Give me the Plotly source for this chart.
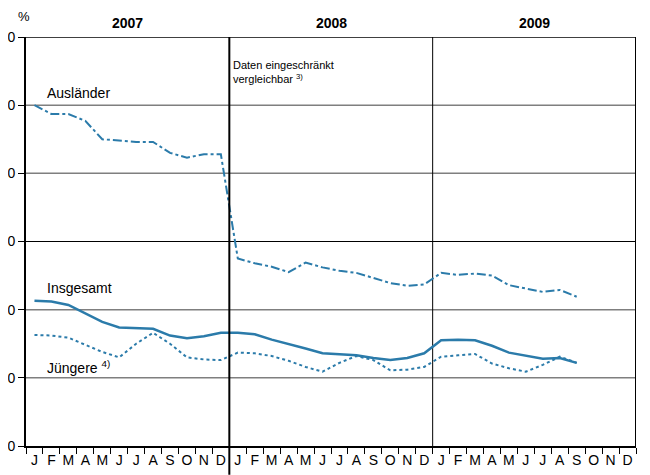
import plotly.graph_objects as go

months = ["J", "F", "M", "A", "M", "J", "J", "A", "S", "O", "N", "D"]
years = ["2007", "2008", "2009"]

auslaender = [50.0, 48.7, 48.7, 47.7, 45.0, 44.8, 44.6, 44.6, 43.0, 42.3, 42.8, 42.8,
              27.5, 26.8, 26.3, 25.5, 26.9, 26.2, 25.7, 25.4, 24.6, 23.9, 23.5, 23.7,
              25.4, 25.1, 25.3, 25.0, 23.6, 23.1, 22.6, 22.9, 21.9]
insgesamt = [21.3, 21.2, 20.7, 19.5, 18.2, 17.4, 17.3, 17.2, 16.2, 15.8, 16.1, 16.6,
             16.6, 16.4, 15.6, 15.0, 14.3, 13.6, 13.5, 13.3, 12.9, 12.6, 12.9, 13.6,
             15.5, 15.6, 15.5, 14.7, 13.7, 13.2, 12.8, 12.9, 12.2]
juengere = [16.3, 16.2, 15.9, 14.8, 13.8, 13.0, 15.0, 16.6, 15.0, 13.0, 12.7, 12.6,
            13.7, 13.6, 13.2, 12.5, 11.6, 10.9, 12.2, 13.2, 12.6, 11.1, 11.2, 11.6,
            13.1, 13.3, 13.5, 12.1, 11.4, 10.9, 11.9, 13.1, 12.2]

n_months = len(years) * len(months)
x_vals = [i + 0.5 for i in range(len(auslaender))]
color = "#2B7BAA"
font_family = "Arial, Liberation Sans, sans-serif"

fig = go.Figure()
fig.add_trace(go.Scatter(x=x_vals, y=auslaender, mode="lines",
                         line=dict(color=color, width=2, dash="dashdot")))
fig.add_trace(go.Scatter(x=x_vals, y=insgesamt, mode="lines",
                         line=dict(color=color, width=2.5)))
fig.add_trace(go.Scatter(x=x_vals, y=juengere, mode="lines",
                         line=dict(color=color, width=2, dash="dot")))

# gridlines
for yv in [10, 20, 40, 50]:
    fig.add_shape(type="line", xref="x", yref="y", x0=0, x1=n_months, y0=yv, y1=yv,
                  line=dict(color="#7f7f7f", width=1.5), layer="below")
fig.add_shape(type="line", xref="x", yref="y", x0=0, x1=n_months, y0=30, y1=30,
              line=dict(color="black", width=1), layer="below")
fig.add_shape(type="line", xref="x", yref="y", x0=0, x1=n_months, y0=60, y1=60,
              line=dict(color="black", width=1.5), layer="below")
# year dividers
fig.add_shape(type="line", xref="x", yref="paper", x0=12, x1=12, y0=-0.07, y1=1,
              line=dict(color="black", width=2))
fig.add_shape(type="line", xref="x", yref="y", x0=24, x1=24, y0=0, y1=60,
              line=dict(color="black", width=1), layer="below")
fig.add_shape(type="line", xref="x", yref="y", x0=36, x1=36, y0=0, y1=60,
              line=dict(color="black", width=2))

annotations = []
for k, yr in enumerate(years):
    annotations.append(dict(x=12 * k + 6, y=1.035, xref="x", yref="paper", text="<b>" + yr + "</b>",
                            showarrow=False, font=dict(size=14, color="black", family=font_family),
                            yanchor="middle"))
annotations += [
    dict(x=0, y=1.05, xref="paper", yref="paper", text="%", showarrow=False, xanchor="center",
         xshift=-2, font=dict(size=13, color="black", family=font_family), yanchor="middle"),
    dict(x=1.1, y=51.8, xref="x", yref="y", text="Ausländer", showarrow=False, xanchor="left",
         font=dict(size=14, color="black", family=font_family)),
    dict(x=1.1, y=23.2, xref="x", yref="y", text="Insgesamt", showarrow=False, xanchor="left",
         font=dict(size=14, color="black", family=font_family)),
    dict(x=1.1, y=11.6, xref="x", yref="y", text="Jüngere <sup>4)</sup>", showarrow=False, xanchor="left",
         font=dict(size=14, color="black", family=font_family)),
    dict(x=12.1, y=54.9, xref="x", yref="y", text="Daten eingeschränkt<br>vergleichbar <sup>3)</sup>",
         showarrow=False, xanchor="left", align="left",
         font=dict(size=11, color="black", family=font_family)),
]

fig.update_layout(
    width=650, height=475,
    margin=dict(l=18, r=22, t=29, b=37),
    paper_bgcolor="white", plot_bgcolor="white",
    showlegend=False,
    annotations=annotations,
    xaxis=dict(range=[0, n_months], showgrid=False, zeroline=False, automargin=False,
               tickmode="array", tickvals=[i + 0.5 for i in range(n_months)],
               ticktext=months * len(years), ticks="",
               tickfont=dict(size=14, color="black", family=font_family),
               showline=True, linecolor="black", linewidth=2,
               minor=dict(tickmode="linear", tick0=0, dtick=1, ticks="outside",
                          ticklen=6, tickcolor="black", tickwidth=1, showgrid=False)),
    yaxis=dict(range=[0, 60], tickvals=[0, 10, 20, 30, 40, 50, 60], showgrid=False,
               zeroline=False, ticks="outside", ticklen=6, tickcolor="black", automargin=False,
               tickfont=dict(size=14, color="black", family=font_family),
               showline=True, linecolor="black", linewidth=2, ticklabelstandoff=0),
)

fig.write_html("out.html")
